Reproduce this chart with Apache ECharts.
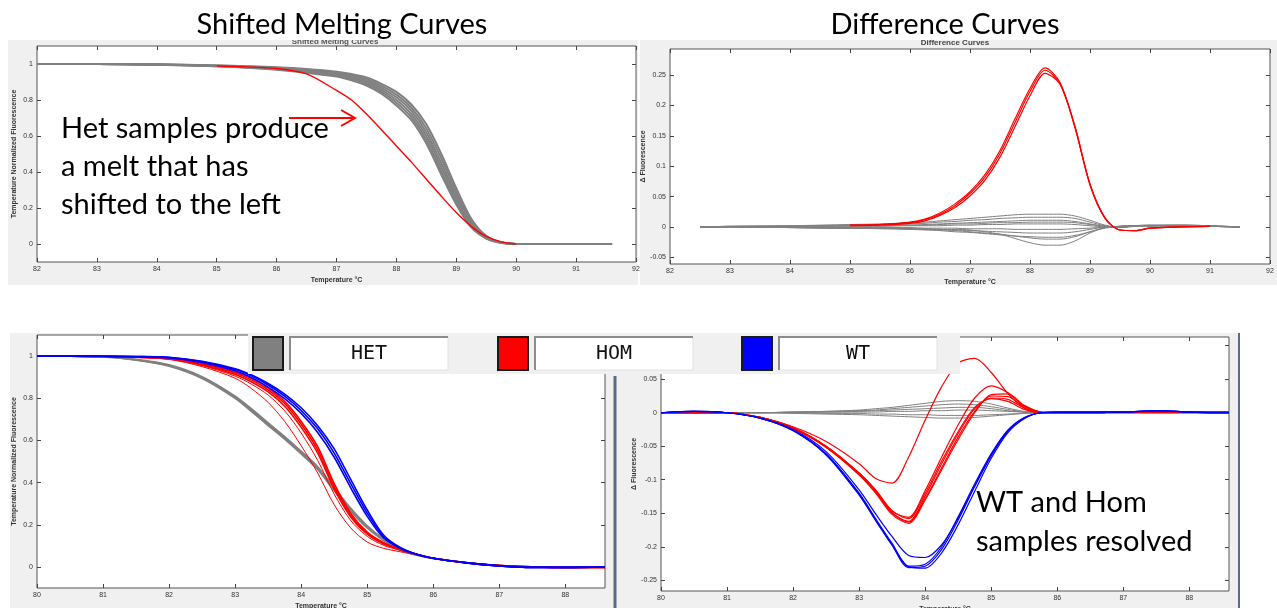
<!DOCTYPE html>
<html>
<head>
<meta charset="utf-8">
<script src="https://cdn.jsdelivr.net/npm/echarts@6/dist/echarts.min.js"></script>
<style>
html, body { margin: 0; padding: 0; background: #fff; }
#main { width: 1277px; height: 608px; }
</style>
</head>
<body>
<div id="main"></div>
<script>
// temperatures (x) of each panel
var tempShift = [82, 83, 84, 85, 85.5, 86, 86.5, 87, 87.25, 87.5, 87.75, 88, 88.25, 88.5, 88.75, 89, 89.25, 89.5, 89.75, 90, 90.5, 91, 91.6];
var tempDiff = [82, 82.5, 83, 84, 85, 85.5, 86, 86.25, 86.5, 86.75, 87, 87.25, 87.5, 87.75, 88, 88.25, 88.5, 88.75, 89, 89.25, 89.5, 89.75, 90, 90.5, 91, 91.5, 92];
var tempLow = [80, 80.5, 81, 81.5, 82, 82.5, 83, 83.25, 83.5, 83.75, 84, 84.25, 84.5, 84.75, 85, 85.25, 85.5, 85.75, 86, 86.5, 87, 87.5, 88, 88.6];

// top left: shifted melting curves
var shiftGray1 = [1, 1, 0.998, 0.992, 0.988, 0.982, 0.972, 0.957, 0.944, 0.925, 0.89, 0.845, 0.775, 0.665, 0.5, 0.31, 0.14, 0.045, 0.01, 0, 0, 0, 0];
var shiftGray2 = [1, 1, 0.997, 0.991, 0.986, 0.979, 0.968, 0.952, 0.937, 0.916, 0.879, 0.83, 0.757, 0.642, 0.475, 0.29, 0.13, 0.042, 0.009, 0, 0, 0, 0];
var shiftGray3 = [1, 1, 0.997, 0.99, 0.984, 0.976, 0.964, 0.946, 0.93, 0.907, 0.868, 0.815, 0.74, 0.62, 0.45, 0.27, 0.12, 0.039, 0.008, 0, 0, 0, 0];
var shiftGray4 = [1, 1, 0.997, 0.989, 0.983, 0.974, 0.96, 0.941, 0.923, 0.898, 0.857, 0.8, 0.722, 0.598, 0.428, 0.252, 0.11, 0.036, 0.008, 0, 0, 0, 0];
var shiftGray5 = [1, 1, 0.996, 0.988, 0.981, 0.971, 0.956, 0.935, 0.916, 0.889, 0.846, 0.785, 0.705, 0.578, 0.405, 0.235, 0.1, 0.033, 0.007, 0, 0, 0, 0];
var shiftGray6 = [1, 1, 0.996, 0.987, 0.979, 0.968, 0.952, 0.93, 0.909, 0.88, 0.835, 0.77, 0.688, 0.558, 0.385, 0.22, 0.092, 0.03, 0.006, 0, 0, 0, 0];
var shiftRed = [null, null, null, 0.989, 0.984, 0.975, 0.945, 0.853, 0.8, 0.722, 0.635, 0.545, 0.455, 0.36, 0.265, 0.175, 0.098, 0.042, 0.012, 0, null, null, null];

// top right: difference curves
var diffRed1 = [null, null, null, null, 0.003, 0.004, 0.008, 0.013, 0.023, 0.038, 0.058, 0.086, 0.126, 0.178, 0.228, 0.262, 0.238, 0.165, 0.07, 0.015, -0.005, -0.006, -0.002, 0, 0.001, null, null];
var diffRed2 = [null, null, null, null, 0.003, 0.004, 0.007, 0.012, 0.021, 0.035, 0.055, 0.082, 0.121, 0.172, 0.223, 0.258, 0.236, 0.163, 0.069, 0.014, -0.005, -0.006, -0.002, 0, 0.001, null, null];
var diffRed3 = [null, null, null, null, 0.002, 0.003, 0.006, 0.01, 0.019, 0.032, 0.051, 0.077, 0.115, 0.165, 0.216, 0.253, 0.235, 0.165, 0.071, 0.015, -0.005, -0.006, -0.002, 0, 0.001, null, null];
var diffGray1 = [null, 0, 0.001, 0.002, 0.004, 0.005, 0.007, 0.008, 0.01, 0.012, 0.014, 0.016, 0.018, 0.02, 0.021, 0.021, 0.021, 0.018, 0.011, 0.003, -0.001, 0.002, 0.003, 0.003, 0.002, 0, null];
var diffGray2 = [null, 0, 0.001, 0.002, 0.003, 0.004, 0.005, 0.006, 0.008, 0.009, 0.011, 0.012, 0.014, 0.015, 0.016, 0.016, 0.016, 0.014, 0.008, 0.002, -0.001, 0.002, 0.003, 0.003, 0.002, 0, null];
var diffGray3 = [null, 0, 0.001, 0.001, 0.002, 0.003, 0.003, 0.004, 0.005, 0.006, 0.007, 0.008, 0.009, 0.01, 0.011, 0.011, 0.011, 0.009, 0.005, 0.001, -0.001, 0.002, 0.002, 0.003, 0.002, 0, null];
var diffGray4 = [null, 0, 0.001, 0.001, 0.002, 0.002, 0.003, 0.003, 0.004, 0.005, 0.005, 0.006, 0.007, 0.007, 0.008, 0.008, 0.008, 0.007, 0.004, 0.001, -0.001, 0.002, 0.002, 0.002, 0.001, 0, null];
var diffGray5 = [null, 0, 0, 0.001, 0.001, 0.001, 0.002, 0.002, 0.002, 0.003, 0.003, 0.004, 0.004, 0.005, 0.005, 0.005, 0.005, 0.004, 0.002, 0, -0.001, 0.001, 0.002, 0.002, 0.001, 0, null];
var diffGray6 = [null, 0, 0, -0.001, -0.001, -0.001, -0.001, -0.002, -0.002, -0.002, -0.003, -0.003, -0.003, -0.004, -0.004, -0.004, -0.004, -0.003, -0.002, 0, 0.001, 0.002, 0.002, 0.002, 0.001, 0, null];
var diffGray7 = [null, 0, 0, -0.001, -0.002, -0.002, -0.003, -0.003, -0.004, -0.005, -0.006, -0.007, -0.008, -0.009, -0.01, -0.01, -0.01, -0.008, -0.004, 0, 0.001, 0.002, 0.002, 0.002, 0.001, 0, null];
var diffGray8 = [null, 0, 0, -0.001, -0.002, -0.003, -0.004, -0.005, -0.006, -0.008, -0.009, -0.011, -0.013, -0.015, -0.016, -0.017, -0.017, -0.014, -0.008, -0.002, 0.001, 0.002, 0.002, 0.002, 0.001, 0, null];
var diffGray9 = [null, 0, 0, -0.001, -0.002, -0.002, -0.003, -0.004, -0.005, -0.006, -0.008, -0.01, -0.012, -0.015, -0.018, -0.02, -0.02, -0.016, -0.008, -0.001, 0.001, 0.002, 0.002, 0.002, 0.001, 0, null];
var diffGray10 = [null, 0, 0, -0.001, -0.002, -0.002, -0.003, -0.003, -0.004, -0.004, -0.005, -0.008, -0.012, -0.019, -0.026, -0.03, -0.03, -0.023, -0.01, -0.001, 0.001, 0.002, 0.002, 0.002, 0.001, 0, null];

// bottom left: normalized melting curves by genotype
var meltHet1 = [1, 1, 0.997, 0.984, 0.958, 0.902, 0.81, 0.749, 0.683, 0.618, 0.548, 0.475, 0.375, 0.278, 0.195, 0.132, 0.084, 0.058, 0.04, 0.02, 0.006, 0, -0.002, 0];
var meltHet2 = [1, 1, 0.996, 0.982, 0.955, 0.898, 0.805, 0.743, 0.677, 0.612, 0.542, 0.468, 0.368, 0.272, 0.19, 0.128, 0.082, 0.057, 0.04, 0.02, 0.006, 0, -0.002, 0];
var meltHet3 = [1, 1, 0.996, 0.981, 0.952, 0.894, 0.8, 0.737, 0.671, 0.606, 0.536, 0.462, 0.361, 0.266, 0.185, 0.125, 0.081, 0.056, 0.04, 0.02, 0.006, 0, -0.002, 0];
var meltHom1 = [1, 1, 0.998, 0.996, 0.99, 0.965, 0.925, 0.893, 0.848, 0.785, 0.69, 0.57, 0.395, 0.255, 0.165, 0.115, 0.084, 0.06, 0.041, 0.02, 0.006, 0, -0.003, -0.003];
var meltHom2 = [1, 1, 0.998, 0.995, 0.988, 0.962, 0.92, 0.886, 0.84, 0.775, 0.677, 0.555, 0.382, 0.245, 0.16, 0.112, 0.083, 0.06, 0.041, 0.02, 0.006, 0, -0.003, -0.003];
var meltHom3 = [1, 1, 0.998, 0.995, 0.987, 0.958, 0.913, 0.877, 0.83, 0.762, 0.662, 0.54, 0.37, 0.237, 0.155, 0.108, 0.081, 0.06, 0.041, 0.02, 0.006, 0, -0.003, -0.003];
var meltHom4 = [1, 1, 0.998, 0.994, 0.984, 0.95, 0.895, 0.845, 0.78, 0.69, 0.575, 0.445, 0.295, 0.185, 0.118, 0.088, 0.072, 0.057, 0.041, 0.02, 0.006, 0, -0.003, -0.003];
var meltHom5 = [1, 1, 0.998, 0.995, 0.986, 0.955, 0.905, 0.866, 0.815, 0.74, 0.635, 0.505, 0.345, 0.22, 0.145, 0.102, 0.079, 0.059, 0.041, 0.02, 0.006, 0, -0.003, -0.003];
var meltWt1 = [1, 1, 0.999, 0.998, 0.994, 0.975, 0.94, 0.91, 0.87, 0.82, 0.755, 0.67, 0.56, 0.415, 0.27, 0.15, 0.092, 0.06, 0.041, 0.019, 0.005, -0.002, -0.002, 0];
var meltWt2 = [1, 1, 0.999, 0.998, 0.993, 0.973, 0.936, 0.905, 0.863, 0.81, 0.742, 0.655, 0.54, 0.395, 0.255, 0.143, 0.09, 0.059, 0.041, 0.019, 0.005, -0.002, -0.002, 0];
var meltWt3 = [1, 1, 0.999, 0.997, 0.992, 0.97, 0.93, 0.897, 0.853, 0.798, 0.728, 0.638, 0.52, 0.375, 0.24, 0.137, 0.088, 0.059, 0.041, 0.019, 0.005, -0.002, -0.002, 0];

// bottom right: difference curves by genotype
var resHet1 = [0, 0, 0, 0, 0.001, 0.002, 0.004, 0.006, 0.008, 0.011, 0.014, 0.017, 0.018, 0.017, 0.013, 0.007, 0.002, 0, 0, 0, 0, 0, 0, 0];
var resHet2 = [0, 0, 0, 0, 0.001, 0.002, 0.003, 0.004, 0.006, 0.008, 0.01, 0.012, 0.013, 0.012, 0.009, 0.005, 0.001, 0, 0, 0, 0, 0, 0, 0];
var resHet3 = [0, 0, 0, 0, 0.001, 0.001, 0.002, 0.003, 0.004, 0.005, 0.006, 0.007, 0.008, 0.008, 0.006, 0.003, 0.001, 0, 0, 0, 0, 0, 0, 0];
var resHet4 = [0, 0, 0, 0, 0, 0.001, 0.001, 0.001, 0.002, 0.002, 0.003, 0.003, 0.004, 0.004, 0.003, 0.002, 0.001, 0, 0, 0, 0, 0, 0, 0];
var resHet5 = [0, 0, 0, 0, 0, -0.001, -0.001, -0.002, -0.002, -0.003, -0.003, -0.004, -0.004, -0.004, -0.003, -0.002, -0.001, 0, 0, 0, 0, 0, 0, 0];
var resHet6 = [0, 0, 0, 0, -0.001, -0.002, -0.003, -0.004, -0.005, -0.006, -0.007, -0.008, -0.008, -0.007, -0.005, -0.003, -0.001, 0, 0, 0, 0, 0, 0, 0];
var resHom1 = [0, 0, 0, -0.007, -0.023, -0.05, -0.09, -0.115, -0.146, -0.158, -0.12, -0.072, -0.028, 0.008, 0.021, 0.017, 0.005, 0, 0, 0, 0.001, 0.001, 0.001, 0.001];
var resHom2 = [0, 0, 0, -0.007, -0.023, -0.051, -0.092, -0.118, -0.15, -0.162, -0.124, -0.076, -0.031, 0.006, 0.022, 0.02, 0.007, 0, 0, 0, 0.001, 0.001, 0.001, 0.001];
var resHom3 = [0, 0, 0, -0.007, -0.023, -0.051, -0.091, -0.117, -0.149, -0.163, -0.128, -0.082, -0.036, 0.002, 0.025, 0.024, 0.009, 0.001, 0, 0, 0.001, 0.001, 0.001, 0.001];
var resHom4 = [0, 0, 0, -0.007, -0.024, -0.052, -0.093, -0.12, -0.152, -0.165, -0.13, -0.085, -0.04, 0, 0.027, 0.028, 0.011, 0.001, 0, 0, 0.001, 0.001, 0.001, 0.001];
var resHom5 = [0, 0, 0, -0.007, -0.022, -0.05, -0.09, -0.116, -0.147, -0.156, -0.116, -0.066, -0.018, 0.022, 0.04, 0.03, 0.01, 0.001, 0, 0, 0.001, 0.001, 0.001, 0.001];
var resHom6 = [0, 0, 0, -0.007, -0.021, -0.043, -0.076, -0.098, -0.105, -0.066, -0.011, 0.039, 0.074, 0.081, 0.06, 0.029, 0.007, 0, 0, 0, 0.001, 0.001, 0.001, 0.001];
var resWt1 = [0, 0.002, 0, -0.008, -0.026, -0.061, -0.12, -0.158, -0.195, -0.229, -0.226, -0.2, -0.155, -0.106, -0.061, -0.026, -0.007, 0, 0.001, 0.001, 0.001, 0.003, 0.001, 0];
var resWt2 = [0, 0.002, 0, -0.008, -0.027, -0.063, -0.123, -0.161, -0.198, -0.231, -0.229, -0.204, -0.16, -0.11, -0.064, -0.028, -0.008, 0, 0.001, 0.001, 0.001, 0.003, 0.001, 0];
var resWt3 = [0, 0.002, 0, -0.008, -0.026, -0.062, -0.121, -0.16, -0.197, -0.23, -0.232, -0.209, -0.167, -0.117, -0.068, -0.03, -0.009, 0, 0.001, 0.001, 0.001, 0.003, 0.001, 0];
var resWt4 = [0, 0.002, 0, -0.008, -0.025, -0.058, -0.115, -0.151, -0.185, -0.213, -0.216, -0.197, -0.157, -0.109, -0.063, -0.027, -0.008, 0, 0.001, 0.001, 0.001, 0.003, 0.001, 0];

// tick labels
var ticksTopX = [82, 83, 84, 85, 86, 87, 88, 89, 90, 91, 92];
var ticksLowX = [80, 81, 82, 83, 84, 85, 86, 87, 88];
var ticksMeltY = [0, 0.2, 0.4, 0.6, 0.8, 1];
var ticksDiffY = [-0.05, 0, 0.05, 0.1, 0.15, 0.2, 0.25];
var ticksResY = [-0.25, -0.2, -0.15, -0.1, -0.05, 0, 0.05, 0.1];
var legendNames = ['HET', 'HOM', 'WT'];

var GRAY = '#808080', RED = '#ff0000', BLUE = '#0000ff';
var chart = echarts.init(document.getElementById('main'));

function pairs(xs, ys) {
    return xs.map(function (x, i) { return [x, ys[i]]; });
}

// 4 plot panels, bottom/left axes 0-3, mirrored top/right axes 4-7
var panels = [
    {grid: {left: 37, top: 46, width: 599, height: 216}, xr: [82, 92], yr: [-0.1, 1.1], xt: ticksTopX, yt: ticksMeltY, yname: 'Temperature Normalized Fluorescence', ygap: 19},
    {grid: {left: 670, top: 49, width: 600, height: 215}, xr: [82, 92], yr: [-0.061, 0.293], xt: ticksTopX, yt: ticksDiffY, yname: '\u0394 Fluorescence', ygap: 21},
    {grid: {left: 37, top: 335, width: 568, height: 253}, xr: [80, 88.6], yr: [-0.1, 1.1], xt: ticksLowX, yt: ticksMeltY, yname: 'Temperature Normalized Fluorescence', ygap: 19},
    {grid: {left: 661, top: 337, width: 568, height: 254}, xr: [80, 88.6], yr: [-0.266, 0.113], xt: ticksLowX, yt: ticksResY, yname: '\u0394 Fluorescence', ygap: 22}
];

var grids = [], xAxes = [], yAxes = [];
var labelFont = {fontSize: 7, color: '#333', fontFamily: 'Liberation Sans'};
var nameFont = {fontSize: 7, fontWeight: 'bold', color: '#333', fontFamily: 'Liberation Sans'};

function makeX(i, p, pos) {
    return {
        gridIndex: i, type: 'value', position: pos, min: p.xr[0], max: p.xr[1],
        axisLine: {show: false, onZero: false}, splitLine: {show: false},
        axisTick: {inside: true, length: 4, customValues: p.xt, lineStyle: {color: '#444'}},
        axisLabel: Object.assign({show: pos === 'bottom', customValues: p.xt, margin: 4}, labelFont),
        name: pos === 'bottom' ? 'Temperature \u00B0C' : '',
        nameLocation: 'middle', nameGap: 15, nameTextStyle: nameFont
    };
}
function makeY(i, p, pos) {
    return {
        gridIndex: i, type: 'value', position: pos, min: p.yr[0], max: p.yr[1],
        axisLine: {show: false, onZero: false}, splitLine: {show: false},
        axisTick: {inside: true, length: 4, customValues: p.yt, lineStyle: {color: '#444'}},
        axisLabel: Object.assign({show: pos === 'left', customValues: p.yt, margin: 4}, labelFont),
        name: pos === 'left' ? p.yname : '',
        nameLocation: 'middle', nameGap: p.ygap, nameRotate: 90, nameTextStyle: nameFont
    };
}
panels.forEach(function (p) {
    grids.push(Object.assign({
        show: true, backgroundColor: '#fff', borderColor: '#555', borderWidth: 1,
        containLabel: false, outerBoundsMode: 'none'
    }, p.grid));
});
panels.forEach(function (p, i) { xAxes.push(makeX(i, p, 'bottom')); yAxes.push(makeY(i, p, 'left')); });
panels.forEach(function (p, i) { xAxes.push(makeX(i, p, 'top')); yAxes.push(makeY(i, p, 'right')); });

var series = [];
function curve(panel, xs, ys, color, w) {
    series.push({
        type: 'line', xAxisIndex: panel, yAxisIndex: panel,
        data: pairs(xs, ys), showSymbol: false, smooth: 0.3, silent: true,
        lineStyle: {color: color, width: w || 1}, itemStyle: {color: color}
    });
}
[shiftGray1, shiftGray2, shiftGray3, shiftGray4, shiftGray5, shiftGray6].forEach(function (d) { curve(0, tempShift, d, GRAY, 2); });
curve(0, tempShift, shiftRed, RED, 1.4);
[diffGray1, diffGray2, diffGray3, diffGray4, diffGray5, diffGray6, diffGray7, diffGray8, diffGray9, diffGray10].forEach(function (d) { curve(1, tempDiff, d, GRAY); });
[diffRed1, diffRed2, diffRed3].forEach(function (d) { curve(1, tempDiff, d, RED, 1.2); });
[meltHet1, meltHet2, meltHet3].forEach(function (d) { curve(2, tempLow, d, GRAY, 1.8); });
[meltHom1, meltHom2, meltHom3].forEach(function (d) { curve(2, tempLow, d, RED, 1.6); });
[meltHom4, meltHom5].forEach(function (d) { curve(2, tempLow, d, RED, 1); });
[meltWt1, meltWt2, meltWt3].forEach(function (d) { curve(2, tempLow, d, BLUE, 1.6); });
[resHet1, resHet2, resHet3, resHet4, resHet5, resHet6].forEach(function (d) { curve(3, tempLow, d, GRAY); });
[resHom1, resHom2, resHom3, resHom4, resHom5, resHom6].forEach(function (d) { curve(3, tempLow, d, RED, 1.2); });
[resWt1, resWt2, resWt3, resWt4].forEach(function (d) { curve(3, tempLow, d, BLUE, 1.2); });

var bigFont = 'Lato, "Open Sans", sans-serif';
var graphics = [
    // figure backgrounds
    {type: 'rect', z: -10, shape: {x: 8, y: 40, width: 630, height: 245}, style: {fill: '#f0f0f0'}},
    {type: 'rect', z: -10, shape: {x: 640, y: 40, width: 637, height: 245}, style: {fill: '#f0f0f0'}},
    {type: 'rect', z: -10, shape: {x: 10, y: 333, width: 1229, height: 275}, style: {fill: '#f0f0f0'}},
    {type: 'line', z: 50, shape: {x1: 615, y1: 376, x2: 615, y2: 608}, style: {stroke: '#5b6b85', lineWidth: 3}},
    {type: 'line', z: 50, shape: {x1: 1239, y1: 333, x2: 1239, y2: 608}, style: {stroke: '#5b6b85', lineWidth: 2}},
    // small axes titles, top half hidden under the slide strip
    {type: 'text', z: 55, x: 335, y: 42, style: {text: 'Shifted Melting Curves', font: 'bold 8px "Liberation Sans"', fill: '#555', align: 'center', verticalAlign: 'middle'}},
    {type: 'text', z: 55, x: 955, y: 43, style: {text: 'Difference Curves', font: 'bold 8px "Liberation Sans"', fill: '#444', align: 'center', verticalAlign: 'middle'}},
    {type: 'rect', z: 56, shape: {x: 180, y: 30, width: 320, height: 10}, style: {fill: '#fff'}},
    {type: 'rect', z: 56, shape: {x: 860, y: 30, width: 200, height: 9}, style: {fill: '#fff'}},
    // titles
    {type: 'text', z: 60, x: 342, y: 25, style: {text: 'Shifted Melting Curves', font: '29px ' + bigFont, fill: '#000', align: 'center', verticalAlign: 'middle'}},
    {type: 'text', z: 60, x: 945, y: 25, style: {text: 'Difference Curves', font: '29px ' + bigFont, fill: '#000', align: 'center', verticalAlign: 'middle'}},
    // annotations
    {type: 'text', z: 60, x: 61, y: 129, style: {text: 'Het samples produce', font: '29px ' + bigFont, fill: '#000', verticalAlign: 'middle'}},
    {type: 'text', z: 60, x: 61, y: 167, style: {text: 'a melt that has', font: '29px ' + bigFont, fill: '#000', verticalAlign: 'middle'}},
    {type: 'text', z: 60, x: 61, y: 205, style: {text: 'shifted to the left', font: '29px ' + bigFont, fill: '#000', verticalAlign: 'middle'}},
    {type: 'polyline', z: 60, shape: {points: [[289, 118], [354, 118]]}, style: {stroke: RED, lineWidth: 2, fill: null}},
    {type: 'polyline', z: 60, shape: {points: [[341, 110], [355, 118], [341, 126]]}, style: {stroke: RED, lineWidth: 2, fill: null}},
    {type: 'text', z: 60, x: 976, y: 503, style: {text: 'WT and Hom', font: '29px ' + bigFont, fill: '#000', verticalAlign: 'middle'}},
    {type: 'text', z: 60, x: 976, y: 542, style: {text: 'samples resolved', font: '29px ' + bigFont, fill: '#000', verticalAlign: 'middle'}},
    // genotype legend bar
    {type: 'rect', z: 70, shape: {x: 248, y: 333, width: 712, height: 41}, style: {fill: '#f0f0f0'}}
];
var swatchX = [253, 498, 742];
var colors = [GRAY, RED, BLUE];
legendNames.forEach(function (name, i) {
    var sx = swatchX[i], bx = sx + 37;
    graphics.push({type: 'rect', z: 71, shape: {x: sx, y: 337, width: 30, height: 33}, style: {fill: colors[i], stroke: '#1a1a1a', lineWidth: 2}});
    graphics.push({type: 'rect', z: 71, shape: {x: bx, y: 337, width: 158, height: 33}, style: {fill: '#fff', stroke: '#e2e2e2', lineWidth: 1}});
    graphics.push({type: 'polyline', z: 72, shape: {points: [[bx, 370], [bx, 337], [bx + 158, 337]]}, style: {stroke: '#8c8c8c', lineWidth: 2, fill: null}});
    graphics.push({type: 'text', z: 72, x: bx + 79, y: 354, style: {text: name, font: '20px "DejaVu Sans Mono"', fill: '#111', align: 'center', verticalAlign: 'middle'}});
});

chart.setOption({
    animation: false,
    backgroundColor: '#fff',
    grid: grids,
    xAxis: xAxes,
    yAxis: yAxes,
    series: series,
    graphic: {elements: graphics}
});
</script>
</body>
</html>
